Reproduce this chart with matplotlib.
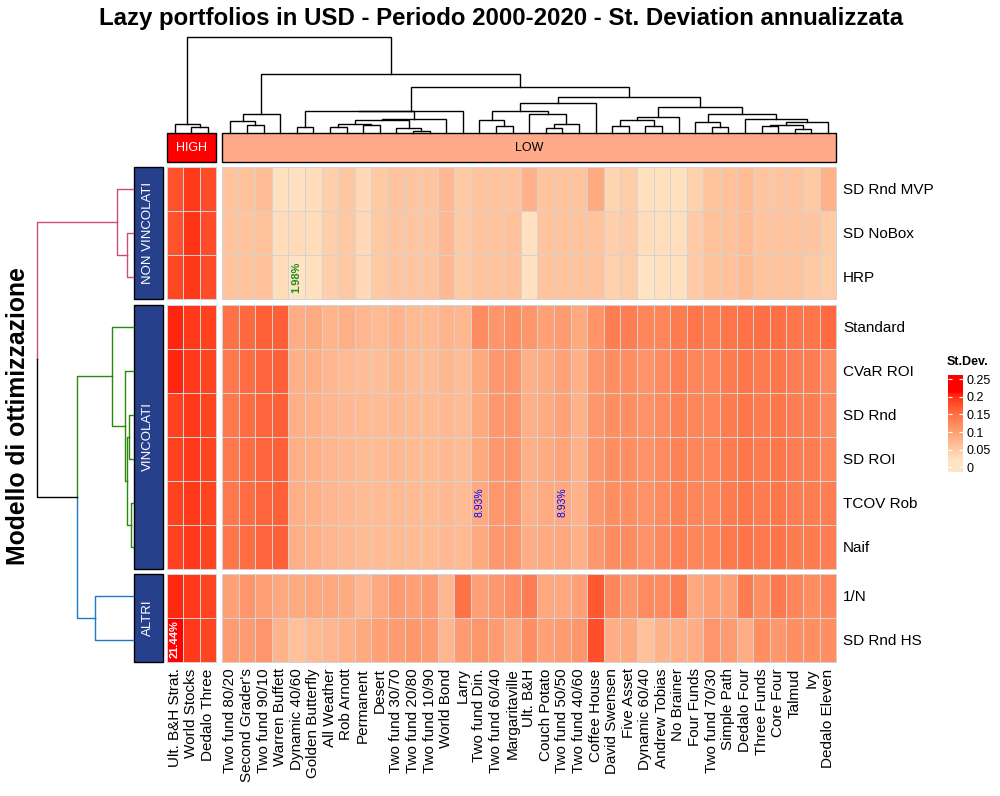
import numpy as np
import matplotlib
matplotlib.use("Agg")
import matplotlib.pyplot as plt
from matplotlib.colors import ListedColormap, Normalize, to_rgb
from matplotlib.patches import Rectangle

plt.rcParams['font.family'] = ['Liberation Sans', 'DejaVu Sans']

title = "Lazy portfolios in USD - Periodo 2000-2020 - St. Deviation annualizzata"

rows = ["SD Rnd MVP", "SD NoBox", "HRP", "Standard", "CVaR ROI", "SD Rnd",
        "SD ROI", "TCOV Rob", "Naif", "1/N", "SD Rnd HS"]
row_groups = ["NON VINCOLATI", "VINCOLATI", "ALTRI"]
row_group_sizes = [3, 6, 2]

cols_high = ["Ult. B&H Strat.", "World Stocks", "Dedalo Three"]
cols_low = ["Two fund 80/20", "Second Grader's", "Two fund 90/10", "Warren Buffett",
            "Dynamic 40/60", "Golden Butterfly", "All Weather", "Rob Arnott", "Permanent",
            "Desert", "Two fund 30/70", "Two fund 20/80", "Two fund 10/90", "World Bond",
            "Larry", "Two fund Din.", "Two fund 60/40", "Margaritaville", "Ult. B&H",
            "Couch Potato", "Two fund 50/50", "Two fund 40/60", "Coffee House",
            "David Swensen", "Five Asset", "Dynamic 60/40", "Andrew Tobias", "No Brainer",
            "Four Funds", "Two fund 70/30", "Simple Path", "Dedalo Four", "Three Funds",
            "Core Four", "Talmud", "Ivy", "Dedalo Eleven"]
col_groups = ["HIGH", "LOW"]

# annualised st. deviation, one list per model (HIGH cols then LOW cols)
sd_rnd_mvp = [0.178, 0.195, 0.183,
              0.060, 0.062, 0.066, 0.025, 0.023, 0.030, 0.045, 0.055, 0.035, 0.053, 0.060, 0.057, 0.057,
              0.072, 0.053, 0.060, 0.060, 0.060, 0.080, 0.060, 0.060, 0.060, 0.088, 0.040, 0.048, 0.025,
              0.025, 0.025, 0.043, 0.060, 0.063, 0.067, 0.057, 0.057, 0.059, 0.052, 0.080]
sd_nobox = [0.178, 0.198, 0.183,
            0.060, 0.060, 0.062, 0.030, 0.032, 0.030, 0.045, 0.054, 0.035, 0.053, 0.057, 0.057, 0.057,
            0.072, 0.053, 0.060, 0.060, 0.062, 0.025, 0.060, 0.060, 0.060, 0.060, 0.045, 0.050, 0.030,
            0.027, 0.027, 0.050, 0.062, 0.062, 0.067, 0.060, 0.060, 0.060, 0.057, 0.050]
hrp = [0.187, 0.196, 0.183,
       0.060, 0.060, 0.063, 0.030, 0.0198, 0.025, 0.045, 0.054, 0.035, 0.053, 0.057, 0.057, 0.057,
       0.072, 0.053, 0.058, 0.060, 0.062, 0.025, 0.060, 0.060, 0.060, 0.058, 0.043, 0.048, 0.022,
       0.025, 0.025, 0.050, 0.062, 0.063, 0.070, 0.060, 0.060, 0.060, 0.052, 0.048]
standard = [0.205, 0.195, 0.190,
            0.150, 0.158, 0.165, 0.168, 0.085, 0.088, 0.077, 0.083, 0.075, 0.070, 0.077, 0.070, 0.070,
            0.077, 0.074, 0.122, 0.112, 0.120, 0.112, 0.100, 0.105, 0.090, 0.113, 0.138, 0.138, 0.130,
            0.130, 0.140, 0.145, 0.138, 0.145, 0.150, 0.152, 0.152, 0.145, 0.145, 0.156]
cvar_roi = [0.205, 0.195, 0.188,
            0.143, 0.155, 0.160, 0.165, 0.082, 0.082, 0.075, 0.070, 0.066, 0.066, 0.074, 0.066, 0.066,
            0.074, 0.067, 0.090, 0.110, 0.112, 0.082, 0.088, 0.098, 0.082, 0.110, 0.120, 0.120, 0.113,
            0.123, 0.135, 0.130, 0.130, 0.140, 0.145, 0.140, 0.145, 0.138, 0.138, 0.123]
sd_rnd = [0.190, 0.195, 0.188,
          0.143, 0.155, 0.160, 0.165, 0.083, 0.080, 0.075, 0.072, 0.070, 0.068, 0.072, 0.068, 0.068,
          0.072, 0.068, 0.090, 0.110, 0.112, 0.082, 0.088, 0.098, 0.080, 0.110, 0.120, 0.120, 0.115,
          0.123, 0.133, 0.128, 0.130, 0.140, 0.145, 0.140, 0.145, 0.138, 0.138, 0.125]
sd_roi = [0.190, 0.195, 0.188,
          0.143, 0.155, 0.160, 0.165, 0.083, 0.080, 0.075, 0.072, 0.069, 0.068, 0.072, 0.068, 0.068,
          0.072, 0.068, 0.090, 0.110, 0.112, 0.082, 0.088, 0.096, 0.080, 0.110, 0.120, 0.120, 0.115,
          0.123, 0.133, 0.128, 0.130, 0.140, 0.145, 0.140, 0.145, 0.138, 0.138, 0.130]
tcov_rob = [0.190, 0.195, 0.188,
            0.143, 0.155, 0.160, 0.165, 0.083, 0.080, 0.075, 0.072, 0.068, 0.068, 0.070, 0.068, 0.068,
            0.072, 0.068, 0.0893, 0.110, 0.112, 0.082, 0.088, 0.0893, 0.080, 0.110, 0.120, 0.120, 0.115,
            0.123, 0.133, 0.128, 0.130, 0.140, 0.145, 0.140, 0.145, 0.138, 0.138, 0.138]
naif = [0.190, 0.195, 0.188,
        0.145, 0.155, 0.160, 0.165, 0.083, 0.080, 0.075, 0.072, 0.068, 0.068, 0.070, 0.068, 0.068,
        0.072, 0.070, 0.090, 0.110, 0.112, 0.085, 0.088, 0.092, 0.082, 0.110, 0.122, 0.122, 0.115,
        0.125, 0.135, 0.130, 0.132, 0.142, 0.147, 0.142, 0.147, 0.140, 0.140, 0.138]
one_n = [0.203, 0.195, 0.188,
         0.100, 0.112, 0.100, 0.092, 0.088, 0.092, 0.092, 0.088, 0.075, 0.092, 0.105, 0.100, 0.105,
         0.075, 0.150, 0.100, 0.110, 0.120, 0.138, 0.092, 0.092, 0.100, 0.172, 0.130, 0.112, 0.123,
         0.123, 0.138, 0.092, 0.100, 0.100, 0.140, 0.120, 0.142, 0.130, 0.120, 0.130]
sd_rnd_hs = [0.2144, 0.195, 0.188,
             0.105, 0.105, 0.112, 0.078, 0.063, 0.070, 0.075, 0.082, 0.090, 0.100, 0.105, 0.110, 0.105,
             0.075, 0.105, 0.112, 0.105, 0.092, 0.120, 0.100, 0.105, 0.112, 0.180, 0.085, 0.090, 0.063,
             0.078, 0.082, 0.085, 0.112, 0.105, 0.085, 0.120, 0.110, 0.120, 0.120, 0.120]

stdev = np.array([sd_rnd_mvp, sd_nobox, hrp, standard, cvar_roi, sd_rnd, sd_roi,
                  tcov_rob, naif, one_n, sd_rnd_hs])

# labelled cells: (row, col, text, colour, bold)
cell_notes = [("SD Rnd HS", "Ult. B&H Strat.", "21.44%", "white", True),
              ("HRP", "Dynamic 40/60", "1.98%", "#1f8f1f", True),
              ("TCOV Rob", "Two fund Din.", "8.93%", "blue", False),
              ("TCOV Rob", "Two fund 50/50", "8.93%", "blue", False)]

# dendrograms as merge lists [a, b, height]; ids >= n refer to earlier merges
col_merges = [[1, 2, 6.3], [0, 40, 8.7], [4, 5, 7.7], [3, 42, 11.7], [43, 6, 18.7],
              [7, 8, 5.7], [9, 10, 5.7], [11, 12, 8.0], [46, 47, 9.0], [14, 15, 2.0],
              [13, 49, 4.7], [48, 50, 13.0], [51, 16, 13.7], [45, 52, 22.0], [53, 17, 22.3],
              [19, 20, 7.3], [18, 55, 13.0], [22, 23, 4.7], [57, 24, 8.7], [21, 58, 18.7],
              [56, 59, 22.0], [60, 25, 29.7], [26, 27, 6.7], [28, 29, 6.7], [62, 63, 12.7],
              [64, 30, 15.7], [32, 33, 6.3], [31, 66, 10.7], [35, 36, 6.7], [37, 38, 3.7],
              [68, 69, 8.0], [70, 39, 10.7], [34, 71, 13.7], [67, 72, 18.7], [65, 73, 26.3],
              [61, 74, 35.7], [54, 75, 45.7], [44, 76, 59.0], [41, 77, 96.0]]
row_merges = [[1, 2, 5.7], [0, 11, 15.7], [5, 6, 3.7], [7, 8, 1.7], [13, 14, 5.7],
              [4, 15, 7.7], [3, 16, 20.7], [9, 10, 37.7], [17, 18, 55.7], [12, 19, 95.7]]
row_group_colors = ["#cc4c7e", "#2a8a0a", "#1a7acc"]

high_color, low_color = "#ff0000", "#ffaa88"
group_blue = "#27408b"
grid_color = "#d3d3d3"


def lab_ramp(c0, c1, n=256):
    M = np.array([[0.4124, 0.3576, 0.1805], [0.2126, 0.7152, 0.0722], [0.0193, 0.1192, 0.9505]])
    white = np.array([0.95047, 1.0, 1.08883])

    def to_lab(c):
        rgb = np.array(to_rgb(c))
        lin = np.where(rgb <= 0.04045, rgb / 12.92, ((rgb + 0.055) / 1.055) ** 2.4)
        xyz = M @ lin / white
        f = np.where(xyz > 0.008856, np.cbrt(xyz), 7.787 * xyz + 16 / 116)
        return np.array([116 * f[1] - 16, 500 * (f[0] - f[1]), 200 * (f[1] - f[2])])

    t = np.linspace(0, 1, n)[:, None]
    lab = to_lab(c0) * (1 - t) + to_lab(c1) * t
    fy = (lab[:, 0] + 16) / 116
    f = np.stack([fy + lab[:, 1] / 500, fy, fy - lab[:, 2] / 200], axis=1)
    xyz = np.where(f > 0.206893, f ** 3, (f - 16 / 116) / 7.787) * white
    lin = np.clip(xyz @ np.linalg.inv(M).T, 0, 1)
    rgb = np.where(lin <= 0.0031308, 12.92 * lin, 1.055 * lin ** (1 / 2.4) - 0.055)
    return ListedColormap(np.clip(rgb, 0, 1))


cmap = lab_ramp("bisque", "red")
norm = Normalize(vmin=stdev.min(), vmax=stdev.max(), clip=True)

# layout in pixels
W, H = 1000, 796
cw, rh = 16.6, 44.0
col_x0 = [166.5, 222.0]
row_y0 = [167.0, 304.5, 573.5]
dend_base = 133.0

fig = plt.figure(figsize=(W / 100, H / 100), dpi=100)
bg = fig.add_axes([0, 0, 1, 1])
bg.set_xlim(0, W)
bg.set_ylim(H, 0)
bg.axis("off")


def px_box(x0, y0, x1, y1):
    return [x0 / W, 1 - y1 / H, (x1 - x0) / W, (y1 - y0) / H]


col_sets = [cols_high, cols_low]
col_starts = [0, len(cols_high)]
row_starts = np.concatenate([[0], np.cumsum(row_group_sizes)[:-1]])

col_centers, row_centers = [], []
for g, names in enumerate(col_sets):
    col_centers += [col_x0[g] + cw * (i + 0.5) for i in range(len(names))]
for g, n in enumerate(row_group_sizes):
    row_centers += [row_y0[g] + rh * (i + 0.5) for i in range(n)]
all_cols = cols_high + cols_low

# heatmap slices
for rg, nr in enumerate(row_group_sizes):
    r0 = row_starts[rg]
    for cg, names in enumerate(col_sets):
        c0 = col_starts[cg]
        nc = len(names)
        ax = fig.add_axes(px_box(col_x0[cg], row_y0[rg], col_x0[cg] + cw * nc, row_y0[rg] + rh * nr))
        block = stdev[r0:r0 + nr, c0:c0 + nc]
        mesh = ax.pcolormesh(block, cmap=cmap, norm=norm, edgecolors=grid_color, linewidth=0.6)
        mesh.set_clip_on(False)
        ax.set_xlim(0, nc)
        ax.set_ylim(nr, 0)
        for s in ax.spines.values():
            s.set_visible(False)
        ax.tick_params(length=0)
        if rg == len(row_group_sizes) - 1:
            ax.set_xticks(np.arange(nc) + 0.5)
            ax.set_xticklabels(names, rotation=90, fontsize=11)
            ax.tick_params(axis="x", pad=5)
        else:
            ax.set_xticks([])
        if cg == 1:
            ax.yaxis.tick_right()
            ax.set_yticks(np.arange(nr) + 0.5)
            ax.set_yticklabels(rows[r0:r0 + nr], fontsize=11)
            ax.tick_params(axis="y", pad=5, length=0)
        else:
            ax.set_yticks([])
        for rname, cname, txt, color, bold in cell_notes:
            ri, ci = rows.index(rname), all_cols.index(cname)
            if r0 <= ri < r0 + nr and c0 <= ci < c0 + nc:
                ax.text(ci - c0 + 0.5, ri - r0 + 0.5, txt, rotation=90, ha="center", va="center",
                        color=color, fontsize=8 if bold else 7.5,
                        fontweight="bold" if bold else "normal")

# column annotation
for g, name in enumerate(col_groups):
    x0 = col_x0[g]
    x1 = x0 + cw * len(col_sets[g])
    color = high_color if name == "HIGH" else low_color
    bg.add_patch(Rectangle((x0, dend_base), x1 - x0, 29, facecolor=color, edgecolor="black", lw=1))
    bg.text((x0 + x1) / 2, dend_base + 15, name, ha="center", va="center", fontsize=9,
            color="white" if name == "HIGH" else "black")

# row annotation
for g, name in enumerate(row_groups):
    y0 = row_y0[g]
    y1 = y0 + rh * row_group_sizes[g]
    bg.add_patch(Rectangle((dend_base + 0.5, y0), 29, y1 - y0, facecolor=group_blue,
                           edgecolor="black", lw=1))
    bg.text(dend_base + 15, (y0 + y1) / 2, name, ha="center", va="center", rotation=90,
            fontsize=9.5, color="white")


def build_tree(merges, leaf_pos):
    pos = list(leaf_pos)
    hgt = [0.0] * len(leaf_pos)
    leaves = [{i} for i in range(len(leaf_pos))]
    for a, b, h in merges:
        pos.append((pos[a] + pos[b]) / 2)
        hgt.append(h)
        leaves.append(leaves[a] | leaves[b])
    return pos, hgt, leaves


# column dendrogram (top)
pos, hgt, _ = build_tree(col_merges, col_centers)
for a, b, h in col_merges:
    bg.plot([pos[a], pos[a], pos[b], pos[b]],
            [dend_base - hgt[a], dend_base - h, dend_base - h, dend_base - hgt[b]],
            color="black", lw=1.0, solid_joinstyle="miter")

# row dendrogram (left), branches coloured by group
pos, hgt, leaves = build_tree(row_merges, row_centers)
group_sets = [set(range(s, s + n)) for s, n in zip(row_starts, row_group_sizes)]


def branch_color(node):
    for gset, col in zip(group_sets, row_group_colors):
        if leaves[node] <= gset:
            return col
    return "black"


n_rows = len(rows)
for k, (a, b, h) in enumerate(row_merges):
    node = n_rows + k
    for c in (a, b):
        bg.plot([dend_base - hgt[c], dend_base - h, dend_base - h],
                [pos[c], pos[c], pos[node]], color=branch_color(c), lw=1.0)

# titles
fig.text(0.501, 1 - 18 / H, title, ha="center", va="center", fontsize=17.3, fontweight="bold")
fig.text(18 / W, 1 - 416 / H, "Modello di ottimizzazione", ha="center", va="center",
         rotation=90, fontsize=17.8, fontweight="bold")

# colour legend
leg = fig.add_axes(px_box(947.5, 375, 962.5, 471.7))
lo, hi = -0.0125, 0.262
grad = np.linspace(lo, hi, 300).reshape(-1, 1)
leg.imshow(grad, cmap=cmap, norm=norm, extent=[0, 1, lo, hi], origin="lower", aspect="auto")
leg.set_xlim(0, 1)
leg.set_ylim(lo, hi)
leg.set_xticks([])
ticks = [0, 0.05, 0.1, 0.15, 0.2, 0.25]
leg.set_yticks(ticks)
leg.set_yticklabels(["0", "0.05", "0.1", "0.15", "0.2", "0.25"], fontsize=9)
leg.tick_params(axis="y", direction="in", colors="white", labelcolor="black", left=True,
                right=True, labelleft=False, labelright=True, length=3, width=0.8, pad=3)
for s in leg.spines.values():
    s.set_visible(False)
fig.text(947 / W, 1 - 362 / H, "St.Dev.", ha="left", va="center", fontsize=9, fontweight="bold")

fig.savefig("out.png", dpi=100)
